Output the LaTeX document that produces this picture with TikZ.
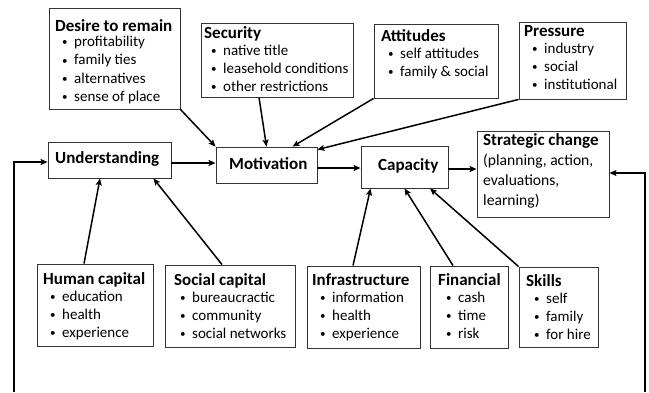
\documentclass[tikz,border=0pt]{standalone}
\usepackage{fontspec}
\setmainfont{Carlito}
\usetikzlibrary{arrows.meta,calc}
\tikzset{
  box/.style={draw=black!80, line width=0.9pt, inner sep=0pt},
  ttl/.style={inner sep=0pt, font=\fontsize{17}{20}\selectfont\bfseries, anchor=base west},
  itm/.style={inner sep=0pt, font=\fontsize{15}{18}\selectfont, anchor=base west},
  plain/.style={inner sep=0pt, font=\fontsize{15.6}{18}\selectfont, anchor=base west},
  arr/.style={line width=1.5pt, -{Stealth[length=7pt,width=6pt,inset=1.5pt]}},
}
\newcommand{\smbul}{\makebox[12pt][l]{\raisebox{0.8pt}{\fontsize{11}{11}\selectfont\textbullet}}}
\newcommand{\mkbox}[5]{\node[box, minimum width={#4-#2}, minimum height={#5-#3}] (#1) at ({(#2+#4)/2},{(#3+#5)/2}) {};}
\newcommand{\mkbullets}[4]{%
  \foreach \s [count=\i] in {#4} {\node[itm] (#1-\i) at (#2,{#3+18.3*(\i-1)}) {\smbul\s};}}
\begin{document}
\begin{tikzpicture}[x=1pt,y=-1pt]
\useasboundingbox (0,0) rectangle (649,392);
% boxes
\mkbox{desire}{49}{8}{180}{109}
\mkbox{security}{201}{23}{353}{97}
\mkbox{attitudes}{374}{24}{498}{98}
\mkbox{pressure}{519}{22}{626}{99}
\mkbox{under}{48}{142}{171}{178}
\mkbox{motiv}{216}{147}{317}{183}
\mkbox{capacity}{361}{146}{448}{188}
\mkbox{strategic}{477}{131}{609}{217}
\mkbox{human}{37}{264}{153}{346}
\mkbox{social}{165}{265}{295}{347}
\mkbox{infra}{307}{266}{420}{348}
\mkbox{financial}{430}{266}{508}{348}
\mkbox{skills}{519}{267}{598}{347}
% texts
\node[ttl] (desire-t) at (55,31) {Desire to remain};
\mkbullets{desire}{62}{46.5}{profitability,family ties,alternatives,sense of place}
\node[ttl] (security-t) at (204,38) {Security};
\mkbullets{security}{211}{55}{native title,leasehold conditions,other restrictions}
\node[ttl] (attitudes-t) at (381,41.5) {Attitudes};
\mkbullets{attitudes}{388}{58}{self attitudes,family \& social}
\node[ttl] (pressure-t) at (524,36.5) {Pressure};
\mkbullets{pressure}{532}{53}{industry,social,institutional}
\node[ttl] (under-t) at (55,163.5) {Understanding};
\node[ttl] (motiv-t) at (229,169) {Motivation};
\node[ttl] (capacity-t) at (378,170) {Capacity};
\node[ttl] (strategic-t) at (483,145) {Strategic change};
\node[plain] (strategic-1) at (483,165) {(planning, action,};
\node[plain] (strategic-2) at (483,185) {evaluations,};
\node[plain] (strategic-3) at (483,205) {learning)};
\node[ttl] (human-t) at (43,284) {Human capital};
\mkbullets{human}{50}{301}{education,health,experience}
\node[ttl] (social-t) at (174,285) {Social capital};
\mkbullets{social}{180}{302}{bureaucractic,community,social networks}
\node[ttl] (infra-t) at (312,285) {Infrastructure};
\mkbullets{infra}{320}{302}{information,health,experience}
\node[ttl] (financial-t) at (438,285) {Financial};
\mkbullets{financial}{446}{302}{cash,time,risk}
\node[ttl] (skills-t) at (526,286.5) {Skills};
\mkbullets{skills}{534}{303}{self,family,for hire}
% feedback ends
\coordinate (fbL) at (14,392);
\coordinate (fbR) at (645,392);
% connectors
\draw[arr] (desire.south east) -- (motiv.north west);
\draw[arr] ($(security.south)+(-18,0)$) -- (motiv.north);
\draw[arr] (attitudes.south west) -- ($(motiv.north)+(26,0)$);
\draw[arr] (pressure.south west) -- ($(motiv.north east)+(0,3)$);
\draw[arr] ($(under.east)+(0,3)$) -- ($(motiv.west)+(0,-2)$);
\draw[arr] ($(motiv.east)+(0,3)$) -- ($(capacity.west)+(0,1)$);
\draw[arr] ($(capacity.east)+(0,2)$) -- ($(strategic.west)+(0,-5)$);
\draw[arr] (fbL) |- ($(under.west)+(0,2)$);
\draw[arr] (fbR) |- ($(strategic.east)+(0,-1)$);
\draw[arr] ($(human.north)+(-11,0)$) -- ($(under.south)+(-9.5,0)$);
\draw[arr] ($(social.north)+(-8,0)$) -- ($(under.south east)+(-18,0)$);
\draw[arr] ($(infra.north)+(-10.5,0)$) -- ($(capacity.south west)+(10,0)$);
\draw[arr] ($(financial.north)+(-16,0)$) -- (capacity.south);
\draw[arr] (skills.north west) -- ($(capacity.south)+(25.5,0)$);
\end{tikzpicture}
\end{document}
